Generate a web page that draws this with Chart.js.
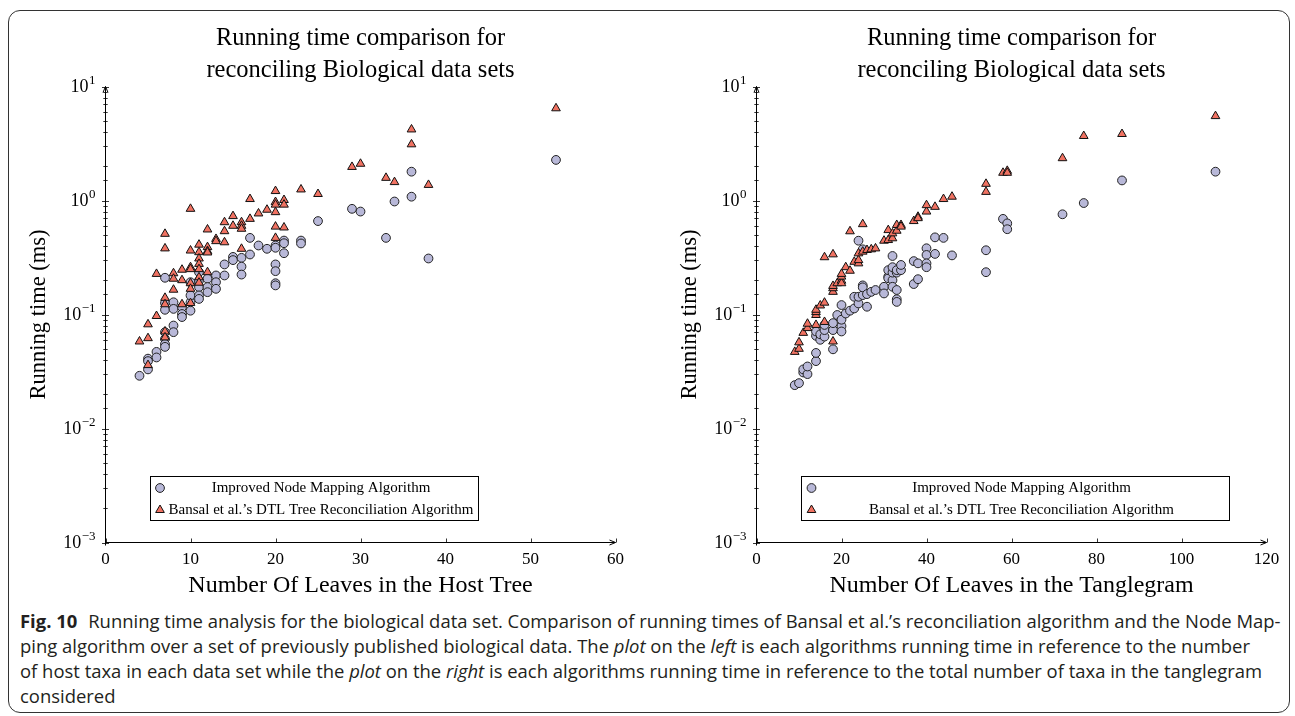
<!DOCTYPE html>
<html>
<head>
<meta charset="utf-8">
<script src="https://cdn.jsdelivr.net/npm/chart.js@4.4.1/dist/chart.umd.min.js"></script>
<style>
  html, body { margin: 0; padding: 0; background: #fff; }
  body { width: 1295px; height: 716px; position: relative; overflow: hidden; }
  #frame { position: absolute; left: 8px; top: 10px; width: 1282px; height: 703px;
           border: 1px solid #333; border-radius: 12px; box-sizing: border-box; }
  .plot { position: absolute; top: 0; width: 650px; height: 600px; }
  #leftWrap { left: 0; }
  #rightWrap { left: 650.5px; }
  #caption { position: absolute; left: 20px; top: 609px; font-family: 'Open Sans', sans-serif;
             font-size: 18px; line-height: 25px; color: #231f20; white-space: nowrap;
             transform-origin: 0 0; }
  #caption b { font-weight: 700; margin-right: 6px; }
</style>
</head>
<body>
<div id="frame"></div>
<div class="plot" id="leftWrap"><canvas id="leftChart" width="650" height="600"></canvas></div>
<div class="plot" id="rightWrap"><canvas id="rightChart" width="650" height="600"></canvas></div>
<div id="caption">
  <div><b>Fig. 10</b> Running time analysis for the biological data set. Comparison of running times of Bansal et al.’s reconciliation algorithm and the Node Map-</div>
  <div>ping algorithm over a set of previously published biological data. The <i>plot</i> on the <i>left</i> is each algorithms running time in reference to the number</div>
  <div id="capLine3">of host taxa in each data set while the <i>plot</i> on the <i>right</i> is each algorithms running time in reference to the total number of taxa in the tanglegram</div>
  <div>considered</div>
</div>

<script>
// ---- données : nombre de feuilles (x) et temps d'exécution en ms (y) ----
// graphique de gauche (arbre hôte)
const leftNodeX = [4, 5, 5, 5, 6, 6, 7, 7, 7, 7, 7, 7, 7, 8, 8, 8, 8, 9, 9, 9, 10, 10, 10, 10,
  11, 11, 11, 11, 11, 12, 12, 12, 13, 13, 13, 14, 14, 15, 15, 16, 16, 16, 17, 17, 18, 19,
  20, 20, 20, 20, 20, 20, 21, 21, 21, 23, 23, 25, 29, 30, 33, 34, 36, 36, 38, 53];
const leftNodeY = [0.029, 0.041, 0.039, 0.033, 0.047, 0.042, 0.070, 0.061, 0.055, 0.052, 0.21, 0.126, 0.11,
  0.128, 0.112, 0.080, 0.070, 0.116, 0.101, 0.095, 0.108, 0.128, 0.147, 0.192,
  0.235, 0.198, 0.174, 0.147, 0.137, 0.206, 0.174, 0.157, 0.22, 0.192, 0.168, 0.275, 0.22,
  0.32, 0.30, 0.314, 0.263, 0.224, 0.47, 0.336, 0.403, 0.377,
  0.403, 0.385, 0.275, 0.24, 0.188, 0.18, 0.445, 0.422, 0.345, 0.445, 0.42, 0.66, 0.845, 0.80,
  0.47, 0.98, 1.08, 1.79, 0.31, 2.27];
const leftDtlX = [4, 5, 5, 5, 6, 6, 7, 7, 7, 7, 7, 7, 8, 8, 8, 9, 9, 9, 10, 10, 10, 10, 10, 10, 10,
  11, 11, 11, 11, 11, 11, 11, 12, 12, 12, 12, 12, 13, 13, 14, 14, 14, 15, 15, 16, 16, 16, 16,
  17, 17, 18, 19, 20, 20, 20, 20, 20, 20, 21, 21, 21, 23, 25, 29, 30, 33, 34, 36, 36, 38, 53];
const leftDtlY = [0.058, 0.062, 0.082, 0.036, 0.097, 0.227, 0.51, 0.38, 0.14, 0.123, 0.071, 0.063,
  0.23, 0.206, 0.165, 0.247, 0.2, 0.123, 0.845, 0.364, 0.26, 0.25, 0.188, 0.168, 0.126,
  0.41, 0.352, 0.31, 0.278, 0.25, 0.212, 0.19, 0.557, 0.39, 0.36, 0.35, 0.235, 0.46, 0.44,
  0.645, 0.538, 0.43, 0.73, 0.6, 0.645, 0.6, 0.565, 0.377, 1.03, 0.69, 0.77, 0.83,
  1.21, 0.97, 0.92, 0.79, 0.59, 0.47, 1.01, 0.92, 0.58, 1.25, 1.14, 1.97, 2.1, 1.58, 1.45,
  4.2, 3.11, 1.37, 6.44];

// graphique de droite (tanglegram)
const rightNodeX = [9, 10, 11, 11, 12, 12, 14, 14, 14, 14, 15, 15, 16, 16, 16, 18, 18, 18, 19,
  20, 20, 20, 20, 21, 22, 23, 23, 24, 24, 24, 25, 25, 25, 25, 26, 26, 27, 28, 30, 30,
  31, 31, 31, 32, 32, 32, 32, 32, 33, 33, 33, 33, 33, 34, 34, 37, 37, 38, 38, 40, 40, 40, 40,
  42, 42, 44, 46, 54, 54, 58, 59, 59, 72, 77, 86, 108];
const rightNodeY = [0.024, 0.025, 0.031, 0.033, 0.030, 0.035, 0.039, 0.046, 0.065, 0.071, 0.060, 0.067,
  0.064, 0.073, 0.081, 0.0495, 0.073, 0.084, 0.099, 0.079, 0.071, 0.09, 0.121, 0.102, 0.108,
  0.113, 0.143, 0.125, 0.143, 0.444, 0.148, 0.18, 0.173, 0.373, 0.117, 0.151, 0.158, 0.164,
  0.175, 0.153, 0.215, 0.208, 0.245, 0.2, 0.233, 0.175, 0.26, 0.326, 0.164, 0.136, 0.129, 0.233, 0.245,
  0.245, 0.272, 0.185, 0.294, 0.204, 0.281, 0.381, 0.333, 0.281, 0.26, 0.475, 0.34, 0.47, 0.33,
  0.366, 0.235, 0.69, 0.63, 0.56, 0.757, 0.95, 1.5, 1.79];
const rightDtlX = [9, 10, 10, 11, 12, 12, 14, 14, 14, 14, 15, 16, 16, 16, 18, 18, 18, 18, 18, 19,
  20, 20, 20, 20, 21, 22, 22, 23, 24, 24, 24, 25, 25, 26, 27, 28, 30, 31, 31, 32, 32, 33, 33,
  34, 34, 37, 38, 38, 40, 40, 42, 44, 46, 54, 54, 58, 59, 59, 72, 77, 86, 108];
const rightDtlY = [0.047, 0.050, 0.057, 0.069, 0.076, 0.083, 0.081, 0.099, 0.105, 0.11, 0.12,
  0.127, 0.086, 0.318, 0.158, 0.17, 0.178, 0.058, 0.337, 0.188, 0.198, 0.188, 0.215, 0.227,
  0.26, 0.242, 0.537, 0.29, 0.281, 0.30, 0.344, 0.356, 0.62, 0.368, 0.373, 0.38, 0.444,
  0.45, 0.55, 0.466, 0.515, 0.543, 0.61, 0.61, 0.59, 0.66, 0.72, 0.70, 0.80, 0.91, 0.88,
  1.03, 1.08, 1.40, 1.19, 1.75, 1.82, 1.75, 2.35, 3.68, 3.83, 5.5];

// graduations
const yDecades = [-3, -2, -1, 0, 1];
const leftXTicks = [0, 10, 20, 30, 40, 50, 60];
const rightXTicks = [0, 20, 40, 60, 80, 100, 120];

const seriesLabels = ["Improved Node Mapping Algorithm", "Bansal et al.’s DTL Tree Reconciliation Algorithm"];
const chartTitle = ["Running time comparison for", "reconciling Biological data sets"];

const SERIF = "'Liberation Serif', 'DejaVu Serif', serif";
Chart.defaults.font.family = SERIF;
Chart.defaults.color = "#000";

// transforme deux tableaux en points {x, y}
function pts(xs, ys) {
  return xs.map((x, i) => ({ x: x, y: ys[i] }));
}

// dessine un marqueur (rond ou triangle)
function drawMarker(ctx, ds, x, y) {
  ctx.fillStyle = ds.backgroundColor;
  ctx.strokeStyle = ds.borderColor;
  ctx.lineWidth = ds.borderWidth;
  const r = ds.pointRadius;
  ctx.beginPath();
  if (ds.pointStyle === "triangle") {
    ctx.moveTo(x, y - r);
    ctx.lineTo(x + r * Math.sin(2 * Math.PI / 3), y - r * Math.cos(2 * Math.PI / 3));
    ctx.lineTo(x + r * Math.sin(4 * Math.PI / 3), y - r * Math.cos(4 * Math.PI / 3));
    ctx.closePath();
  } else {
    ctx.arc(x, y, r, 0, Math.PI * 2);
  }
  ctx.fill();
  ctx.stroke();
}

// axes avec flèches, graduations et étiquettes 10^n
const axesPlugin = {
  id: "axesPlugin",
  afterDraw(chart) {
    const { ctx, chartArea: a, scales } = chart;
    const x = scales.x, y = scales.y;
    ctx.save();
    ctx.strokeStyle = "#000";
    ctx.fillStyle = "#000";
    ctx.lineWidth = 1;
    ctx.beginPath();
    ctx.moveTo(a.left, a.bottom + 3);
    ctx.lineTo(a.left, a.top);
    ctx.moveTo(a.left, a.bottom);
    ctx.lineTo(a.right, a.bottom);
    ctx.stroke();
    // flèches
    ctx.beginPath();
    ctx.moveTo(a.left - 2.5, a.top + 6);
    ctx.lineTo(a.left, a.top);
    ctx.lineTo(a.left + 2.5, a.top + 6);
    ctx.moveTo(a.right - 6, a.bottom - 2.5);
    ctx.lineTo(a.right, a.bottom);
    ctx.lineTo(a.right - 6, a.bottom + 2.5);
    ctx.stroke();

    // graduations y
    ctx.lineWidth = 0.8;
    y.ticks.forEach((t) => {
      const lg = Math.log10(t.value);
      const major = Math.abs(lg - Math.round(lg)) < 1e-6;
      const py = Math.round(y.getPixelForValue(t.value)) + 0.5;
      const len = major ? 3.5 : 2.2;
      ctx.beginPath();
      ctx.moveTo(a.left - len, py);
      ctx.lineTo(a.left + len, py);
      ctx.stroke();
    });
    // graduations x
    x.ticks.forEach((t) => {
      const px = Math.round(x.getPixelForValue(t.value)) + 0.5;
      ctx.beginPath();
      ctx.moveTo(px, a.bottom - 4);
      ctx.lineTo(px, a.bottom);
      ctx.stroke();
    });

    // étiquettes 10^n
    yDecades.forEach((e) => {
      const py = y.getPixelForValue(Math.pow(10, e));
      const expStr = e < 0 ? "\u2212" + Math.abs(e) : String(e);
      const xr = a.left - 10;
      ctx.textAlign = "right";
      ctx.font = "13px " + SERIF;
      const w = ctx.measureText(expStr).width;
      ctx.textBaseline = "alphabetic";
      ctx.fillText(expStr, xr, py - 2.5);
      ctx.font = "18px " + SERIF;
      ctx.textBaseline = "middle";
      ctx.fillText("10", xr - w - 0.5, py + 1);
    });
    ctx.restore();
  }
};

// légende encadrée dans la zone du graphique
const boxLegend = {
  id: "boxLegend",
  afterDatasetsDraw(chart, args, opts) {
    const { ctx, chartArea } = chart;
    const x0 = chartArea.left + opts.dx;
    const y0 = chartArea.bottom - opts.dy - opts.h;
    ctx.save();
    ctx.fillStyle = "#fff";
    ctx.fillRect(x0, y0, opts.w, opts.h);
    ctx.strokeStyle = "#000";
    ctx.lineWidth = 1;
    ctx.strokeRect(Math.round(x0) + 0.5, Math.round(y0) + 0.5, opts.w, opts.h);
    chart.data.datasets.forEach((ds, i) => {
      const cy = y0 + opts.rowH * (i + 0.5) + 1;
      drawMarker(ctx, ds, x0 + opts.markerX, cy);
      ctx.fillStyle = "#000";
      ctx.font = opts.fontSize + "px " + SERIF;
      ctx.textAlign = "center";
      ctx.textBaseline = "middle";
      ctx.fillText(ds.label, x0 + opts.textCx, cy);
    });
    ctx.restore();
  }
};

function makeChart(canvasId, nodeX, nodeY, dtlX, dtlY, xTicks, xTitle, legendOpts) {
  const ctx = document.getElementById(canvasId).getContext("2d");
  return new Chart(ctx, {
    type: "scatter",
    data: {
      datasets: [
        {
          label: seriesLabels[0],
          data: pts(nodeX, nodeY),
          pointStyle: "circle",
          pointRadius: 4.4,
          backgroundColor: "rgb(184, 184, 216)",
          borderColor: "#222",
          borderWidth: 1,
          order: 1
        },
        {
          label: seriesLabels[1],
          data: pts(dtlX, dtlY),
          pointStyle: "triangle",
          pointRadius: 5,
          backgroundColor: "rgb(240, 114, 98)",
          borderColor: "#111",
          borderWidth: 1,
          order: 0
        }
      ]
    },
    options: {
      responsive: false,
      animation: false,
      events: [],
      layout: { padding: { left: 0, right: 34.5, top: 0, bottom: 0 } },
      plugins: {
        legend: { display: false },
        tooltip: { enabled: false },
        title: {
          display: true,
          fullSize: false,
          text: chartTitle,
          font: { size: 24.5, weight: "normal", lineHeight: 1.3 },
          padding: { top: 22.8, bottom: 0 },
          color: "#000"
        },
        boxLegend: legendOpts
      },
      scales: {
        x: {
          type: "linear",
          min: xTicks[0],
          max: xTicks[xTicks.length - 1],
          afterBuildTicks: (scale) => { scale.ticks = xTicks.map((v) => ({ value: v })); },
          ticks: { font: { size: 17 }, color: "#000", padding: 7, maxRotation: 0 },
          grid: { display: false, drawTicks: false },
          border: { display: false },
          title: { display: true, text: xTitle, font: { size: 24 }, color: "#000", padding: { top: 0, bottom: 0 } },
          afterFit: (scale) => { scale.height = 57.5; }
        },
        y: {
          type: "logarithmic",
          min: 0.001,
          max: 10,
          ticks: { display: false, autoSkip: false },
          grid: { display: false, drawTicks: false },
          border: { display: false },
          title: { display: true, text: "Running time (ms)", font: { size: 22.5 }, color: "#000", padding: { top: 26, bottom: 0 } },
          afterFit: (scale) => { scale.width = 105.5; }
        }
      }
    },
    plugins: [axesPlugin, boxLegend]
  });
}

makeChart("leftChart", leftNodeX, leftNodeY, leftDtlX, leftDtlY, leftXTicks,
  "Number Of Leaves in the Host Tree",
  { dx: 44.5, dy: 22.5, w: 328, h: 44, rowH: 22, markerX: 10, textCx: 171, fontSize: 15 });

makeChart("rightChart", rightNodeX, rightNodeY, rightDtlX, rightDtlY, rightXTicks,
  "Number Of Leaves in the Tanglegram",
  { dx: 44, dy: 22.5, w: 428, h: 44, rowH: 22, markerX: 11, textCx: 221, fontSize: 15 });

// ajuste la largeur de la légende de la figure
const cap = document.getElementById("caption");
const line3 = document.getElementById("capLine3");
const range = document.createRange();
range.selectNodeContents(line3);
const textW = range.getBoundingClientRect().width;
cap.style.transform = "scaleX(" + (1242 / textW) + ")";
</script>
</body>
</html>
